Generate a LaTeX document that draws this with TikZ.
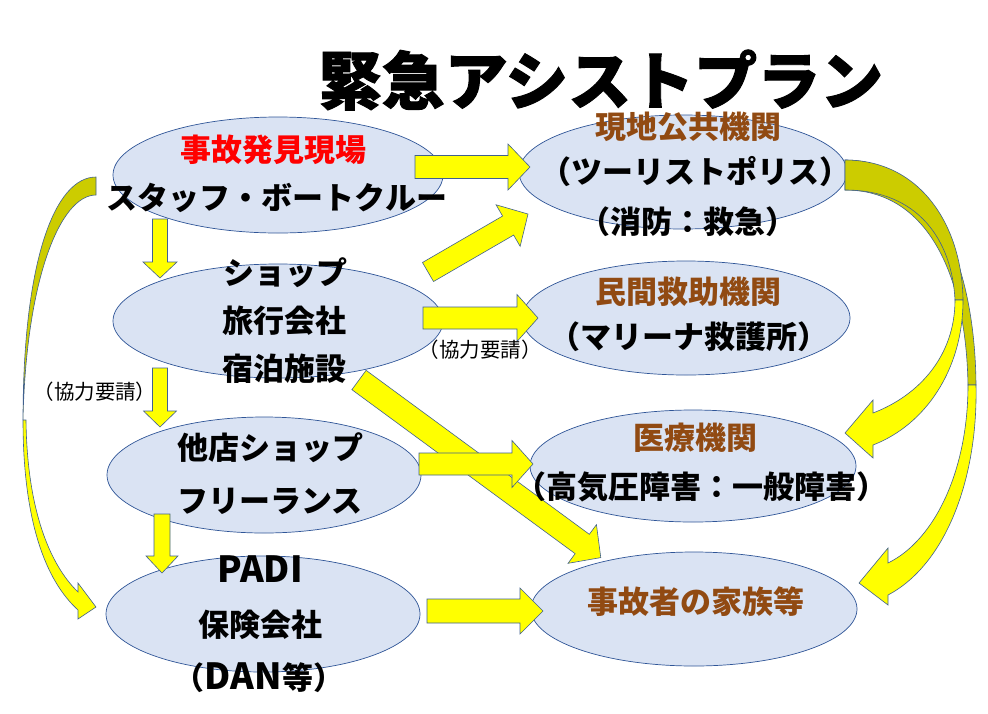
\documentclass[tikz,border=0pt]{standalone}
\usepackage{fontspec}
\setmainfont{Noto Sans CJK JP}
\newfontfamily\jpt{Noto Sans CJK JP}[BoldFeatures={FakeBold=1.5}]
\usetikzlibrary{shapes.geometric}
\definecolor{efill}{HTML}{DAE3F3}
\definecolor{eline}{HTML}{2F5597}
\definecolor{brn}{HTML}{914A12}
\definecolor{ayel}{HTML}{FFFF00}
\definecolor{aolive}{HTML}{CCCC00}
\definecolor{aline}{HTML}{41618F}
\tikzset{
  ell/.style={ellipse, draw=eline, line width=0.7pt, fill=efill, inner sep=0pt},
  txt/.style={font=\bfseries\fontsize{31}{31}\selectfont, inner sep=0pt, text height=25.7pt, text depth=2.2pt},
  smalltxt/.style={font=\fontsize{20.5}{20.5}\selectfont, inner sep=0pt, text height=17pt, text depth=1.4pt},
  arrowbody/.style={fill=ayel, draw=aline, line width=0.6pt, line join=miter},
  backbody/.style={fill=aolive, draw=aline, line width=0.6pt},
}
\newcommand\blockarr[6]{%
  \begin{scope}[shift={#1},rotate=#2]
    \filldraw[arrowbody] (0,-#4) -- ({#3-#6},-#4) -- ({#3-#6},-#5) -- (#3,0)
      -- ({#3-#6},#5) -- ({#3-#6},#4) -- (0,#4) -- cycle;
  \end{scope}}
\newcommand\Lt[1]{{\fontsize{36}{36}\selectfont #1}}
\begin{document}
\begin{tikzpicture}[x=1pt,y=-1pt]
\useasboundingbox (0,0) rectangle (988,713);
\fill[white] (0,0) rectangle (988,713);

% title
\node[font=\jpt\bfseries\fontsize{63}{63}\selectfont, inner sep=0pt] (title) at (601,80) {緊急アシストプラン};

% ellipses
\node[ell, minimum width=330pt, minimum height=116pt] (e1) at (278,175) {};
\node[ell, minimum width=330pt, minimum height=114pt] (e2) at (278,321) {};
\node[ell, minimum width=314pt, minimum height=116pt] (e3) at (264,475) {};
\node[ell, minimum width=314pt, minimum height=116pt] (e4) at (263,614) {};
\node[ell, minimum width=328pt, minimum height=114pt] (e5) at (683,172) {};
\node[ell, minimum width=328pt, minimum height=114pt] (e6) at (686,318) {};
\node[ell, minimum width=326pt, minimum height=112pt] (e7) at (693,466) {};
\node[ell, minimum width=326pt, minimum height=114pt] (e8) at (694,609) {};

% curved arrow left (e1 -> e4)
\filldraw[backbody] (96,177) .. controls (55,177) and (23,260) .. (23,420)
  .. controls (26,280) and (60,195) .. (96,195) -- cycle;
\filldraw[arrowbody] (23,420) .. controls (23,520) and (45,580) .. (78,610)
  -- (78,619) -- (96,607) -- (78,583) -- (78,592)
  .. controls (50,565) and (27,510) .. (26,420) -- cycle;

% curved arrows right (e5 -> e8, e5 -> e7)
\filldraw[backbody] (845,160) .. controls (930,160) and (975,260) .. (976,385)
  -- (968,385) .. controls (966,270) and (925,190) .. (845,190) -- cycle;
\filldraw[backbody] (845,160) .. controls (920,160) and (962,225) .. (963,300)
  -- (955,300) .. controls (952,240) and (918,190) .. (845,190) -- cycle;
\filldraw[arrowbody] (963,300) .. controls (963,370) and (925,425) .. (873,445)
  -- (873,458) -- (845,433) -- (873,400) -- (873,413)
  .. controls (920,395) and (955,355) .. (955,300) -- cycle;
\filldraw[arrowbody] (976,385) .. controls (978,480) and (945,565) .. (888,595)
  -- (888,605) -- (859,583) -- (888,548) -- (888,563)
  .. controls (935,540) and (968,470) .. (968,385) -- cycle;

% straight block arrows
\blockarr{(160,219)}{-90}{59}{7.5}{17}{16}   % e1 -> e2
\blockarr{(160,368)}{-90}{59}{7.5}{16.5}{16} % e2 -> e3
\blockarr{(162,514)}{-90}{59}{8}{16}{17}     % e3 -> e4
\blockarr{(415,167)}{0}{115}{11.5}{23}{22}   % e1 -> e5
\blockarr{(428,272)}{30.1}{115.6}{11}{24}{23} % e2 -> e5
\blockarr{(423,318)}{0}{115}{11}{23.5}{21}   % e2 -> e6
\blockarr{(359,380)}{-36.3}{300}{12}{24}{23} % e2 -> e8
\blockarr{(419,464)}{0}{114}{11}{23.5}{21}   % e3 -> e7
\blockarr{(427,611)}{0}{116}{12}{23}{23}     % e4 -> e8

% texts
\node[txt, text=red] (t1a) at (273,150) {事故発見現場};
\node[txt] (t1b) at (277,198) {スタッフ・ボートクルー};
\node[txt] (t2a) at (285,273) {ショップ};
\node[txt] (t2b) at (284,321) {旅行会社};
\node[txt] (t2c) at (284,369) {宿泊施設};
\node[txt] (t3a) at (270,448) {他店ショップ};
\node[txt] (t3b) at (270,501) {フリーランス};
\node[txt] (t4a) at (260,571) {\Lt{PADI}};
\node[txt] (t4b) at (260,625) {保険会社};
\node[txt] (t4c) at (259,678) {（\Lt{DAN}等）};
\node[txt, text=brn] (t5a) at (688,127) {現地公共機関};
\node[txt] (t5b) at (695,172) {（ツーリストポリス）};
\node[txt] (t5c) at (688,222) {（消防：救急）};
\node[txt, text=brn] (t6a) at (688,292) {民間救助機関};
\node[txt] (t6b) at (689,337) {（マリーナ救護所）};
\node[txt, text=brn] (t7a) at (695,438) {医療機関};
\node[txt] (t7b) at (701,487) {（高気圧障害：一般障害）};
\node[txt, text=brn] (t8a) at (696,602) {事故者の家族等};
\node[smalltxt] (k1) at (480,350) {（協力要請）};
\node[smalltxt] (k2) at (95,392) {（協力要請）};
\end{tikzpicture}
\end{document}
